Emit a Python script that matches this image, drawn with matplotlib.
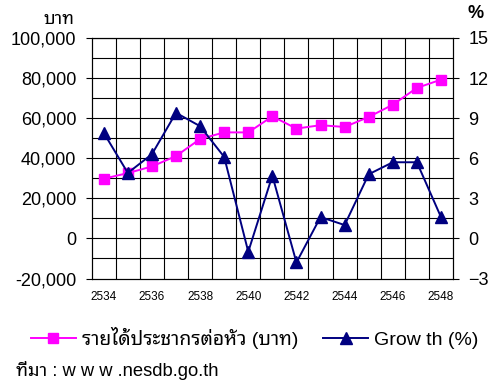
import matplotlib
matplotlib.use("Agg")
import matplotlib.pyplot as plt
from matplotlib.lines import Line2D
import numpy as np

plt.rcParams['font.family'] = ['Liberation Sans', 'Noto Sans Thai Looped', 'DejaVu Sans']

# Buddhist-era years
years = [2534, 2535, 2536, 2537, 2538, 2539, 2540, 2541, 2542, 2543,
         2544, 2545, 2546, 2547, 2548]
# per-capita income (baht)
income = [29800, 32600, 35900, 41100, 49600, 52900, 52900, 60900, 54800,
          56500, 55600, 60600, 66700, 75100, 79200]
# growth (%)
growth = [7.9, 4.9, 6.3, 9.4, 8.4, 6.1, -1.0, 4.7, -1.8, 1.6, 1.0, 4.8,
          5.7, 5.7, 1.6]

income_label = "รายได้ประชากรต่อหัว (บาท)"
growth_label = "Grow th (%)"
source_text = "ที่มา : w w w .nesdb.go.th"
pink = "#FF00FF"
navy = "#000080"

W, H = 492, 383
fig = plt.figure(figsize=(W / 100, H / 100), dpi=100)
ax = fig.add_axes([91.7 / W, 1 - 278.5 / H, (453 - 91.7) / W, (278.5 - 38) / H])
ax2 = ax.twinx()

x = np.arange(len(years))
ax.set_xlim(-0.5, len(years) - 0.5)
ax.set_ylim(-20000, 100000)
ax2.set_ylim(-3, 15)

# grid: every category boundary and every 10,000 baht
for b in np.arange(0.5, len(years) - 0.5, 1.0):
    ax.axvline(b, color="black", lw=0.8, zorder=1)
for g in np.arange(-10000, 100001, 10000):
    ax.axhline(g, color="black", lw=0.8, zorder=1)

ax.plot(x, income, color=pink, lw=1.4, marker="s", markersize=7,
        markerfacecolor=pink, markeredgecolor=pink, zorder=3)
ax2.plot(x, growth, color=navy, lw=1.4, marker="^", markersize=8,
         markerfacecolor=navy, markeredgecolor=navy, zorder=3)

ax.set_yticks(np.arange(-20000, 100001, 20000))
ax.set_yticklabels([f"{v:,}" for v in range(-20000, 100001, 20000)])
ax2.set_yticks(np.arange(-3, 16, 3))
ax.set_xticks(x[::2])
ax.set_xticklabels([str(y) for y in years[::2]])

ax.tick_params(axis="y", direction="out", length=4, width=0.8, pad=7,
               labelsize=13)
ax2.tick_params(axis="y", direction="out", length=4, width=0.8, pad=7,
                labelsize=13)
ax.tick_params(axis="x", length=0, pad=9, labelsize=8.5)

for a in (ax, ax2):
    for s in a.spines.values():
        s.set_linewidth(0.8)
        s.set_color("black")

fig.text(74 / W, 1 - 19 / H, "บาท", ha="right", va="center", fontsize=13)
fig.text(476 / W, 1 - 14 / H, "%", ha="center", va="center", fontsize=13,
         fontweight="bold")

handles = [
    Line2D([], [], color=pink, lw=1.4, marker="s", markersize=7),
    Line2D([], [], color=navy, lw=1.4, marker="^", markersize=8),
]
fig.legend(handles, [income_label, growth_label], ncol=2, frameon=False,
           loc="center left", bbox_to_anchor=(31 / W, 1 - 338 / H),
           fontsize=14, handlelength=2.3, handletextpad=0.3,
           columnspacing=1.3, borderpad=0, borderaxespad=0)

fig.text(16 / W, 1 - 370 / H, source_text, ha="left", va="center",
         fontsize=13.2)

fig.savefig("out.png", dpi=100)
